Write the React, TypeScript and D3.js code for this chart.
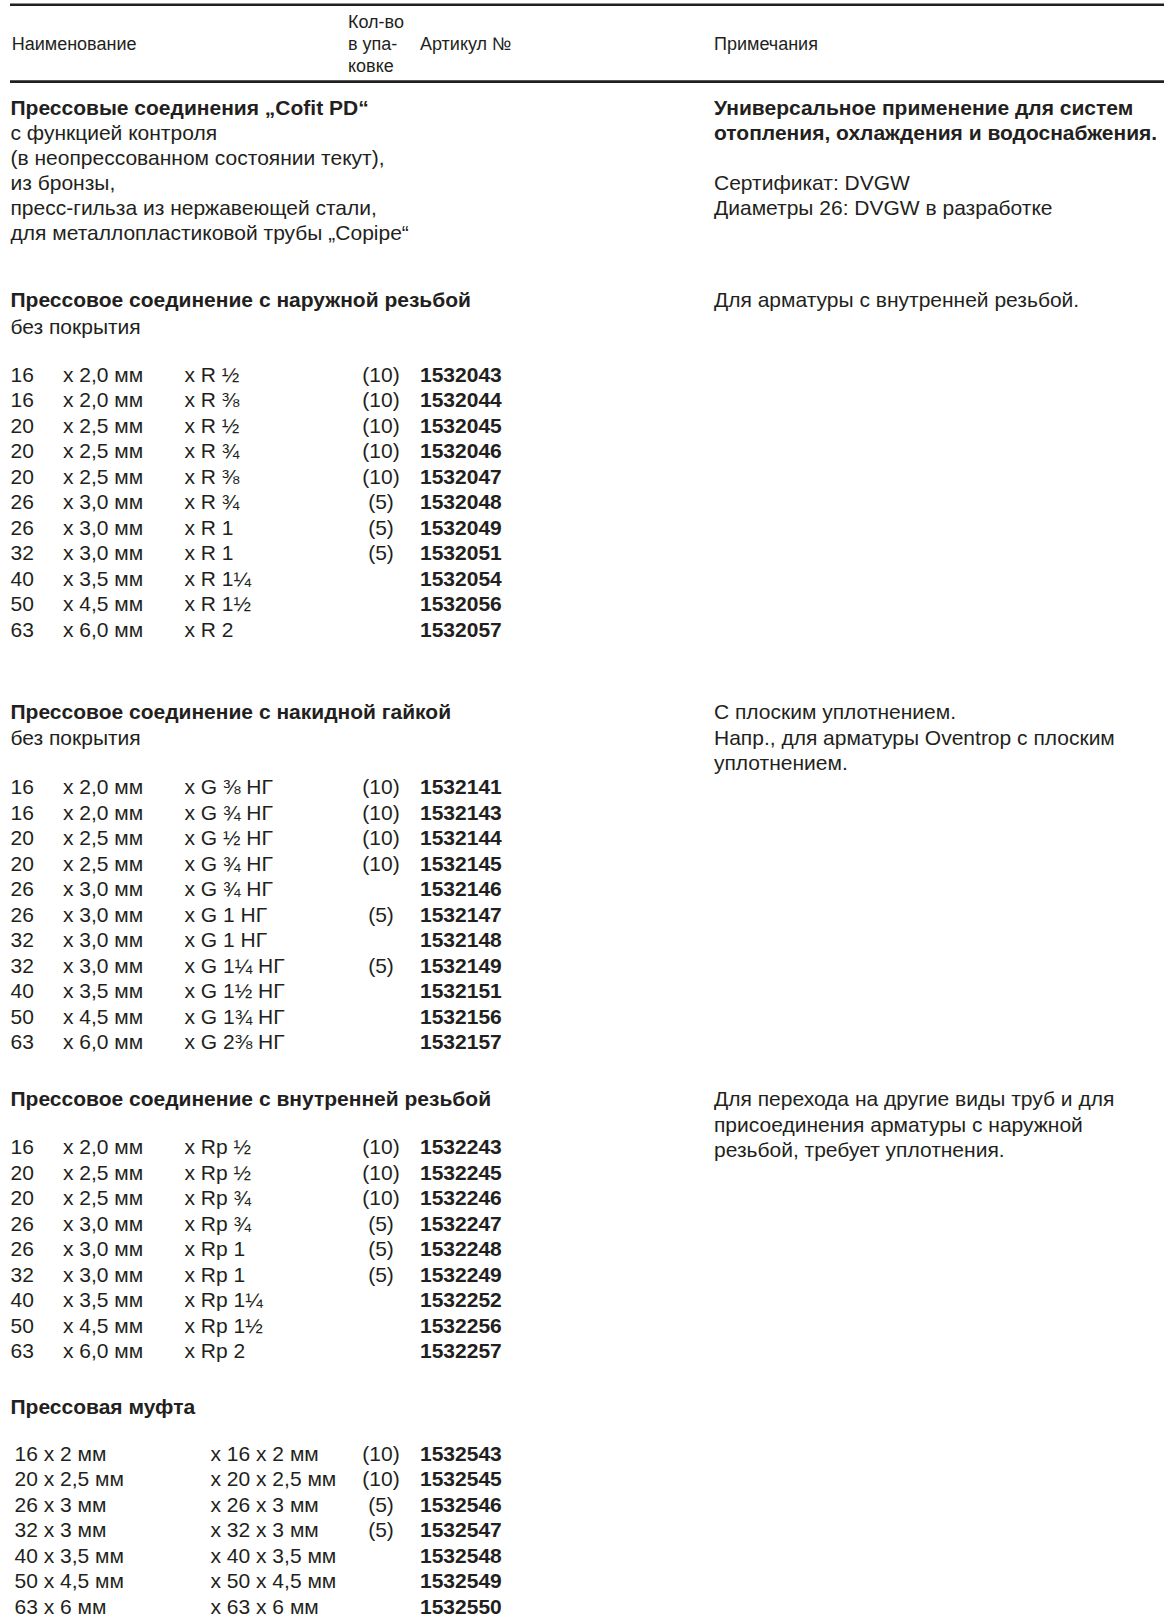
import React from "react";
import * as d3 from "d3";

// ---------- DATA ----------
const headerName = "Наименование";
const headerQty = ["Кол-во", "в упа-", "ковке"];
const headerArt = "Артикул №";
const headerNotes = "Примечания";

const introTitle = "Прессовые соединения „Cofit PD“";
const introLines = [
  "с функцией контроля",
  "(в неопрессованном состоянии текут),",
  "из бронзы,",
  "пресс-гильза из нержавеющей стали,",
  "для металлопластиковой трубы „Copipe“",
];
const introNotesBold = ["Универсальное применение для систем", "отопления, охлаждения и водоснабжения."];
const introNotes = ["Сертификат: DVGW", "Диаметры 26: DVGW в разработке"];

const s1Title = "Прессовое соединение с наружной резьбой";
const s1Sub = "без покрытия";
const s1Notes = ["Для арматуры с внутренней резьбой."];
const s1Pipe = ["16", "16", "20", "20", "20", "26", "26", "32", "40", "50", "63"];
const s1Wall = ["x 2,0 мм", "x 2,0 мм", "x 2,5 мм", "x 2,5 мм", "x 2,5 мм", "x 3,0 мм", "x 3,0 мм", "x 3,0 мм", "x 3,5 мм", "x 4,5 мм", "x 6,0 мм"];
const s1Thread = ["x R ½", "x R ⅜", "x R ½", "x R ¾", "x R ⅜", "x R ¾", "x R 1", "x R 1", "x R 1¼", "x R 1½", "x R 2"];
const s1Pack = ["(10)", "(10)", "(10)", "(10)", "(10)", "(5)", "(5)", "(5)", "", "", ""];
const s1Art = ["1532043", "1532044", "1532045", "1532046", "1532047", "1532048", "1532049", "1532051", "1532054", "1532056", "1532057"];

const s2Title = "Прессовое соединение с накидной гайкой";
const s2Sub = "без покрытия";
const s2Notes = ["С плоским уплотнением.", "Напр., для арматуры Oventrop с плоским", "уплотнением."];
const s2Pipe = ["16", "16", "20", "20", "26", "26", "32", "32", "40", "50", "63"];
const s2Wall = ["x 2,0 мм", "x 2,0 мм", "x 2,5 мм", "x 2,5 мм", "x 3,0 мм", "x 3,0 мм", "x 3,0 мм", "x 3,0 мм", "x 3,5 мм", "x 4,5 мм", "x 6,0 мм"];
const s2Thread = ["x G ⅜ НГ", "x G ¾ НГ", "x G ½ НГ", "x G ¾ НГ", "x G ¾ НГ", "x G 1 НГ", "x G 1 НГ", "x G 1¼ НГ", "x G 1½ НГ", "x G 1¾ НГ", "x G 2⅜ НГ"];
const s2Pack = ["(10)", "(10)", "(10)", "(10)", "", "(5)", "", "(5)", "", "", ""];
const s2Art = ["1532141", "1532143", "1532144", "1532145", "1532146", "1532147", "1532148", "1532149", "1532151", "1532156", "1532157"];

const s3Title = "Прессовое соединение с внутренней резьбой";
const s3Notes = ["Для перехода на другие виды труб и для", "присоединения арматуры с наружной", "резьбой, требует уплотнения."];
const s3Pipe = ["16", "20", "20", "26", "26", "32", "40", "50", "63"];
const s3Wall = ["x 2,0 мм", "x 2,5 мм", "x 2,5 мм", "x 3,0 мм", "x 3,0 мм", "x 3,0 мм", "x 3,5 мм", "x 4,5 мм", "x 6,0 мм"];
const s3Thread = ["x Rp ½", "x Rp ½", "x Rp ¾", "x Rp ¾", "x Rp 1", "x Rp 1", "x Rp 1¼", "x Rp 1½", "x Rp 2"];
const s3Pack = ["(10)", "(10)", "(10)", "(5)", "(5)", "(5)", "", "", ""];
const s3Art = ["1532243", "1532245", "1532246", "1532247", "1532248", "1532249", "1532252", "1532256", "1532257"];

const s4Title = "Прессовая муфта";
const s4From = ["16 x 2 мм", "20 x 2,5 мм", "26 x 3 мм", "32 x 3 мм", "40 x 3,5 мм", "50 x 4,5 мм", "63 x 6 мм"];
const s4To = ["x 16 x 2 мм", "x 20 x 2,5 мм", "x 26 x 3 мм", "x 32 x 3 мм", "x 40 x 3,5 мм", "x 50 x 4,5 мм", "x 63 x 6 мм"];
const s4Pack = ["(10)", "(10)", "(5)", "(5)", "", "", ""];
const s4Art = ["1532543", "1532545", "1532546", "1532547", "1532548", "1532549", "1532550"];

// ---------- LAYOUT ----------
const W = 1164;
const H = 1620;
const FONT = "'Liberation Sans', Arial, Helvetica, sans-serif";
const INK = "#231f20";
const FS = 21;
const HFS = 18;
const PITCH = 25.5;

const colX = {
  name: 10.5,
  wall: 63,
  thread: 184.5,
  packMid: 381,
  art: 420,
  notes: 714,
  coupFrom: 14.5,
  coupTo: 210.5,
  qtyHead: 348,
};

const rows = (start: number) => d3.scaleLinear().domain([0, 1]).range([start, start + PITCH]);

function Txt({ x, y, children, bold = false, size = FS, anchor = "start" }: any) {
  return (
    <text
      x={x}
      y={y + size * 0.35}
      fontFamily={FONT}
      fontSize={size}
      fontWeight={bold ? 700 : 400}
      fill={INK}
      textAnchor={anchor}
    >
      {children}
    </text>
  );
}

function Rows({ start, pipe, wall, thread, pack, art }: any) {
  const y = rows(start);
  return (
    <g>
      {art.map((a: string, i: number) => (
        <g key={a}>
          <Txt x={colX.name} y={y(i)}>{pipe[i]}</Txt>
          <Txt x={colX.wall} y={y(i)}>{wall[i]}</Txt>
          <Txt x={colX.thread} y={y(i)}>{thread[i]}</Txt>
          {pack[i] ? <Txt x={colX.packMid} y={y(i)} anchor="middle">{pack[i]}</Txt> : null}
          <Txt x={colX.art} y={y(i)} bold>{a}</Txt>
        </g>
      ))}
    </g>
  );
}

function Notes({ start, lines, bold = false }: any) {
  const y = rows(start);
  return (
    <g>
      {lines.map((l: string, i: number) => (
        <Txt key={l} x={colX.notes} y={y(i)} bold={bold}>{l}</Txt>
      ))}
    </g>
  );
}

export default function App() {
  const introY = d3.scaleLinear().domain([0, 1]).range([108, 133]);
  const hy = d3.scaleLinear().domain([0, 1]).range([21.7, 43.7]);
  const s4y = rows(1453.5);

  return (
    <svg
      width={W}
      height={H}
      viewBox={`0 0 ${W} ${H}`}
      style={{ position: "absolute", left: 0, top: 0, background: "#fff" }}
    >
      <rect x={0} y={0} width={W} height={H} fill="#fff" />
      {/* header rules */}
      <line x1={10} x2={W} y1={4.8} y2={4.8} stroke={INK} strokeWidth={2.6} />
      <line x1={10} x2={W} y1={81.6} y2={81.6} stroke={INK} strokeWidth={2.6} />

      {/* header */}
      <Txt x={11.7} y={hy(1)} size={HFS}>{headerName}</Txt>
      {headerQty.map((h, i) => (
        <Txt key={h} x={colX.qtyHead} y={hy(i)} size={HFS}>{h}</Txt>
      ))}
      <Txt x={colX.art} y={hy(1)} size={HFS}>{headerArt}</Txt>
      <Txt x={colX.notes} y={hy(1)} size={HFS}>{headerNotes}</Txt>

      {/* intro */}
      <Txt x={colX.name} y={introY(0)} bold>{introTitle}</Txt>
      {introLines.map((l, i) => (
        <Txt key={l} x={colX.name} y={introY(i + 1)}>{l}</Txt>
      ))}
      {introNotesBold.map((l, i) => (
        <Txt key={l} x={colX.notes} y={introY(i)} bold>{l}</Txt>
      ))}
      {introNotes.map((l, i) => (
        <Txt key={l} x={colX.notes} y={introY(i + 3)}>{l}</Txt>
      ))}

      {/* section 1 */}
      <Txt x={colX.name} y={300} bold>{s1Title}</Txt>
      <Txt x={colX.name} y={326.3}>{s1Sub}</Txt>
      <Notes start={300} lines={s1Notes} />
      <Rows start={374.5} pipe={s1Pipe} wall={s1Wall} thread={s1Thread} pack={s1Pack} art={s1Art} />

      {/* section 2 */}
      <Txt x={colX.name} y={711.7} bold>{s2Title}</Txt>
      <Txt x={colX.name} y={738}>{s2Sub}</Txt>
      <Notes start={711.7} lines={s2Notes} />
      <Rows start={786.7} pipe={s2Pipe} wall={s2Wall} thread={s2Thread} pack={s2Pack} art={s2Art} />

      {/* section 3 */}
      <Txt x={colX.name} y={1099} bold>{s3Title}</Txt>
      <Notes start={1099} lines={s3Notes} />
      <Rows start={1146.7} pipe={s3Pipe} wall={s3Wall} thread={s3Thread} pack={s3Pack} art={s3Art} />

      {/* section 4 */}
      <Txt x={colX.name} y={1407} bold>{s4Title}</Txt>
      {s4Art.map((a, i) => (
        <g key={a}>
          <Txt x={colX.coupFrom} y={s4y(i)}>{s4From[i]}</Txt>
          <Txt x={colX.coupTo} y={s4y(i)}>{s4To[i]}</Txt>
          {s4Pack[i] ? <Txt x={colX.packMid} y={s4y(i)} anchor="middle">{s4Pack[i]}</Txt> : null}
          <Txt x={colX.art} y={s4y(i)} bold>{a}</Txt>
        </g>
      ))}
    </svg>
  );
}
